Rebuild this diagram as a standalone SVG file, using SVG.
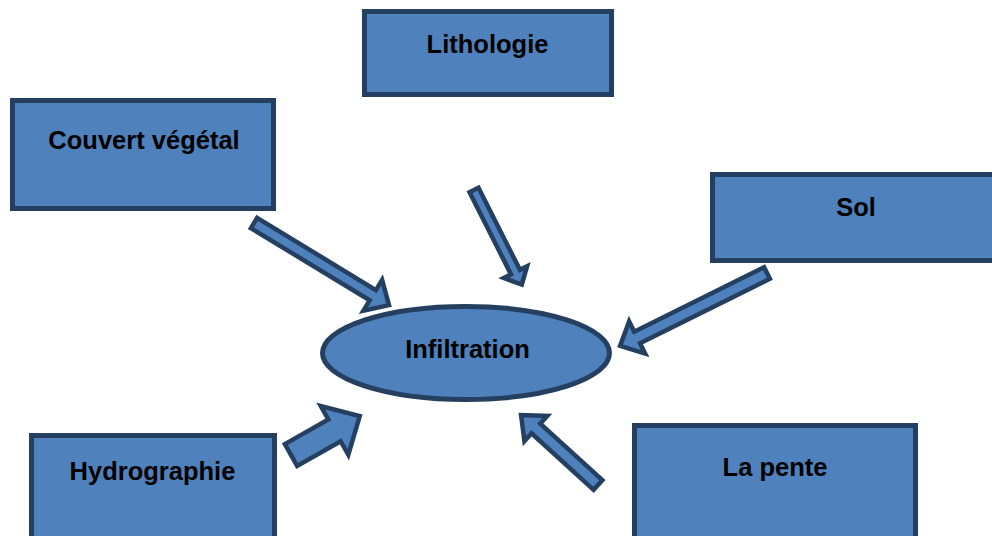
<svg xmlns="http://www.w3.org/2000/svg" width="992" height="536" viewBox="0 0 992 536">
<style>
.box{fill:#4F81BD;stroke:#243F60;stroke-width:5}
.arr{fill:#4F81BD;stroke:#243F60;stroke-width:4.5;stroke-linejoin:miter}
.lbl{font-family:"Liberation Sans",Arial,sans-serif;font-weight:bold;font-size:25.5px;fill:#000;text-anchor:middle}
</style>
<rect width="992" height="536" fill="#fff"/>
<g id="connectors">
<path class="arr" transform="translate(254,223) rotate(31.3)" d="M0,-6 L139,-6 L139,-18 L158,0 L139,18 L139,6 L0,6 Z"/>
<path class="arr" transform="translate(474,190) rotate(63.2)" d="M0,-5 L92,-5 L92,-13 L106,0 L92,13 L92,5 L0,5 Z"/>
<path class="arr" transform="translate(767,273) rotate(153.6)" d="M0,-6.5 L145,-6.5 L145,-18 L164,0 L145,18 L145,6.5 L0,6.5 Z"/>
<path class="arr" transform="translate(291,455) rotate(-29.5)" d="M0,-12.5 L50,-12.5 L50,-28 L79,0 L50,28 L50,12.5 L0,12.5 Z"/>
<path class="arr" transform="translate(598,485) rotate(-137.7)" d="M0,-6.5 L84,-6.5 L84,-17 L104,0 L84,17 L84,6.5 L0,6.5 Z"/>
</g>
<g id="lithologie">
<rect class="box" x="364.5" y="11.5" width="247" height="83"/>
<text class="lbl" x="487.5" y="53">Lithologie</text>
</g>
<g id="couvert">
<rect class="box" x="12.5" y="100.5" width="261" height="108"/>
<text class="lbl" x="144" y="149">Couvert végétal</text>
</g>
<g id="sol">
<rect class="box" x="712.5" y="174.5" width="290" height="86"/>
<text class="lbl" x="856" y="216">Sol</text>
</g>
<g id="infiltration">
<ellipse class="box" cx="466" cy="353" rx="143.5" ry="46.5"/>
<text class="lbl" x="467.5" y="358">Infiltration</text>
</g>
<g id="hydrographie">
<rect class="box" x="31.5" y="435.5" width="243" height="110"/>
<text class="lbl" x="152.5" y="480">Hydrographie</text>
</g>
<g id="pente">
<rect class="box" x="634.5" y="425.5" width="281" height="120"/>
<text class="lbl" x="775" y="476">La pente</text>
</g>
</svg>
